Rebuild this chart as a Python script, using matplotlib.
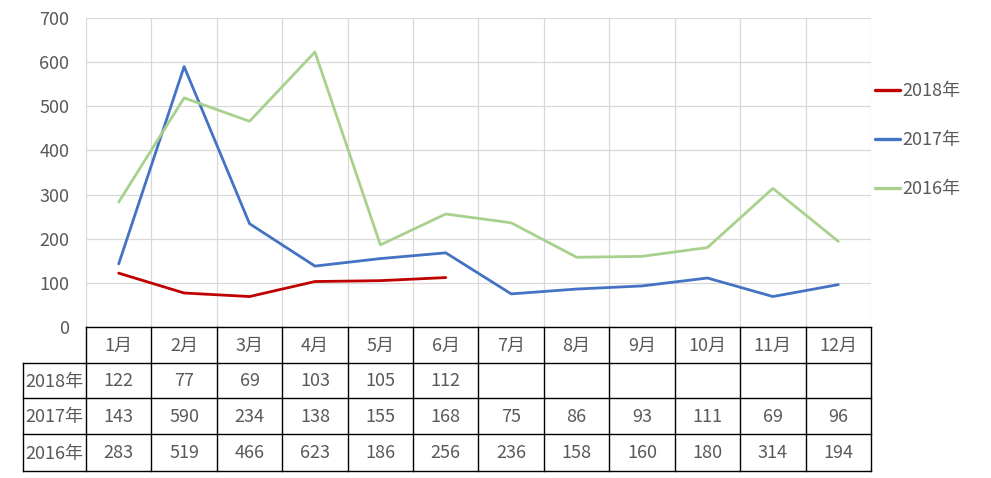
import numpy as np
import matplotlib.pyplot as plt

plt.rcParams['font.family'] = ['Noto Sans CJK SC', 'DejaVu Sans']

# Data
months = ['1月', '2月', '3月', '4月', '5月', '6月', '7月', '8月', '9月', '10月', '11月', '12月']
series_names = ['2018年', '2017年', '2016年']
y2018 = [122, 77, 69, 103, 105, 112]
y2017 = [143, 590, 234, 138, 155, 168, 75, 86, 93, 111, 69, 96]
y2016 = [283, 519, 466, 623, 186, 256, 236, 158, 160, 180, 314, 194]
series_values = [y2018, y2017, y2016]
colors = ['#C00000', '#4472C4', '#A9D18E']

W, H = 991, 478
fig = plt.figure(figsize=(W / 100, H / 100), dpi=100)
txt = '#595959'
fs = 13

# chart area
ax = fig.add_axes([86 / W, 1 - 327 / H, (871 - 86) / W, (327 - 18) / H])
for name, vals, c in zip(series_names, series_values, colors):
    x = np.arange(len(vals)) + 0.5
    ax.plot(x, vals, color=c, lw=2.0, label=name, solid_capstyle='round')
ax.set_xlim(0, 12)
ax.set_ylim(0, 700)
ax.set_yticks(range(0, 701, 100))
ax.set_xticks(range(0, 13))
ax.set_xticklabels([])
ax.tick_params(length=0, labelsize=fs, labelcolor=txt, pad=12)
ax.grid(True, color='#D9D9D9', lw=0.9)
ax.set_axisbelow(True)
for s in ax.spines.values():
    s.set_visible(False)
leg = ax.legend(loc='center left', bbox_to_anchor=(1.0, 0.605), frameon=False,
                fontsize=fs, labelcolor=txt, handlelength=1.4, handletextpad=0.15,
                labelspacing=1.72, borderaxespad=0, borderpad=0.2)
for h in leg.get_lines():
    h.set_linewidth(2.4)

# data table below
tab = fig.add_axes([23 / W, 1 - 471 / H, (871 - 23) / W, (471 - 327) / H])
left = -63 / ((871 - 86) / 12)
tab.set_xlim(left, 12)
row_edges = [0, 36, 71, 107, 144]
tab.set_ylim(144, 0)
tab.axis('off')
lc = 'black'
lw = 1.0
# horizontal lines
tab.plot([0, 12], [0, 0], color=lc, lw=lw, clip_on=False)
for yy in row_edges[1:]:
    tab.plot([left, 12], [yy, yy], color=lc, lw=lw, clip_on=False)
# vertical lines
for xx in range(0, 13):
    tab.plot([xx, xx], [0, 144], color=lc, lw=lw, clip_on=False)
tab.plot([left, left], [36, 144], color=lc, lw=lw, clip_on=False)

for i, m in enumerate(months):
    tab.text(i + 0.5, 19, m, ha='center', va='center', fontsize=fs, color=txt)
for r, (name, vals) in enumerate(zip(series_names, series_values)):
    yc = (row_edges[r + 1] + row_edges[r + 2]) / 2 + 1
    tab.text(left / 2, yc, name, ha='center', va='center', fontsize=fs, color=txt)
    for i, v in enumerate(vals):
        tab.text(i + 0.5, yc, str(v), ha='center', va='center', fontsize=fs, color=txt)

fig.savefig('out.png', dpi=100)
